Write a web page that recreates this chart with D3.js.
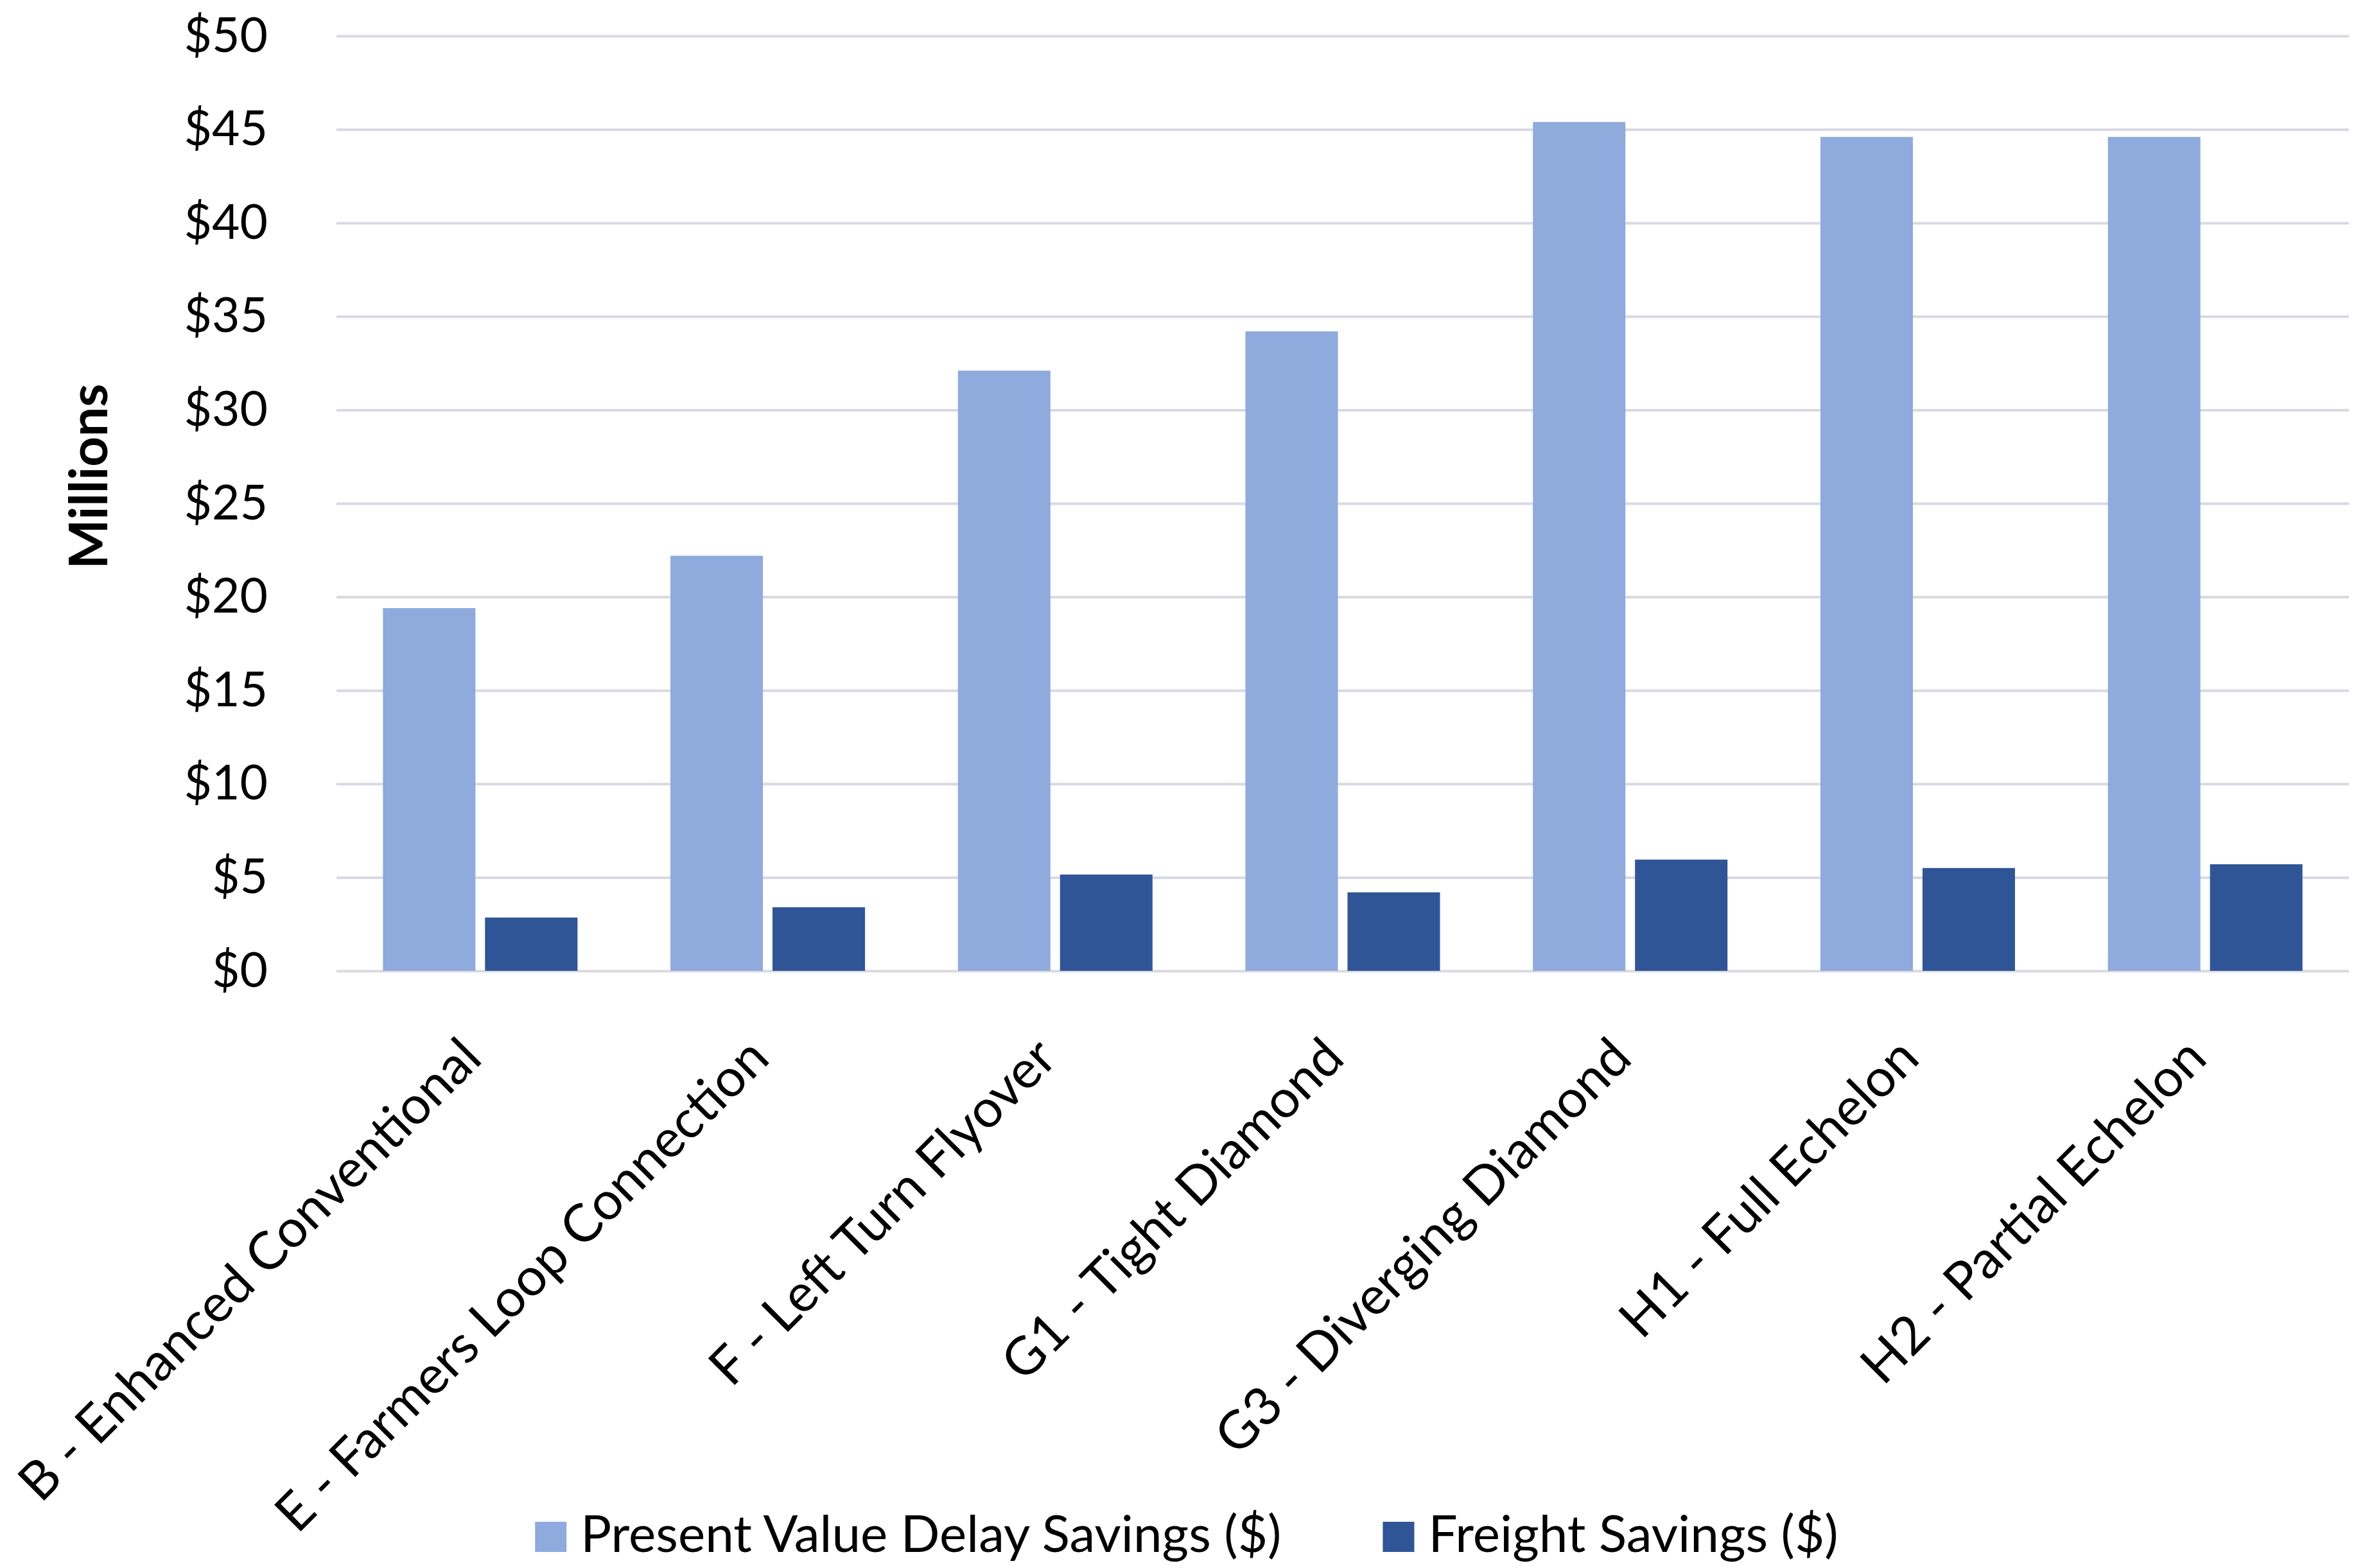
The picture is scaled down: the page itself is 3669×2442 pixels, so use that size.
<!DOCTYPE html>
<html>
<head>
<meta charset="utf-8">
<script src="https://cdn.jsdelivr.net/npm/d3@7"></script>
<style>
  html, body { margin: 0; padding: 0; background: #ffffff; }
  text { font-family: "Lato", "Open Sans", sans-serif; fill: #000000; }
</style>
</head>
<body>
<script>
// chart data
const categories = [
    'B - Enhanced Conventional',
    'E - Farmers Loop Connection',
    'F - Left Turn Flyover',
    'G1 - Tight Diamond',
    'G3 - Diverging Diamond',
    'H1 - Full Echelon',
    'H2 - Partial Echelon'
];
const seriesNames = ['Present Value Delay Savings ($)', 'Freight Savings ($)'];
const delaySavings = [19.4, 22.2, 32.1, 34.2, 45.4, 44.6, 44.6];
const freightSavings = [2.85, 3.4, 5.15, 4.2, 5.95, 5.5, 5.7];
const yTicks = [0, 5, 10, 15, 20, 25, 30, 35, 40, 45, 50];
const seriesColors = ['#8faadc', '#2f5597'];

function renderChart() {
    const width = 3669;
    const height = 2442;
    const plot = { left: 524, right: 3658, top: 56, bottom: 1512 };

    const svg = d3.select('body')
        .append('svg')
        .attr('width', width)
        .attr('height', height);

    svg.append('rect')
        .attr('width', width)
        .attr('height', height)
        .attr('fill', '#ffffff');

    // scales
    const x = d3.scaleBand()
        .domain(categories)
        .range([plot.left, plot.right]);

    const xInner = d3.scaleBand()
        .domain(seriesNames)
        .range([0, x.bandwidth()])
        .paddingInner(0.094)
        .paddingOuter(0.455);

    const y = d3.scaleLinear()
        .domain([0, 50])
        .range([plot.bottom, plot.top]);

    // y axis with gridlines
    const yAxis = d3.axisLeft(y)
        .tickValues(yTicks)
        .tickSize(-(plot.right - plot.left))
        .tickPadding(107)
        .tickFormat(d => '$' + d);

    const yg = svg.append('g')
        .attr('transform', `translate(${plot.left}, 0)`)
        .call(yAxis);
    yg.select('.domain').remove();
    yg.selectAll('.tick line')
        .attr('stroke', '#d9d9e3')
        .attr('stroke-width', 4);
    yg.selectAll('.tick text')
        .attr('font-size', 75)
        .attr('font-family', 'Lato, sans-serif')
        .attr('fill', '#000');

    // bars
    const rows = categories.map((c, i) => ({
        cat: c,
        values: [
            { name: seriesNames[0], value: delaySavings[i] },
            { name: seriesNames[1], value: freightSavings[i] }
        ]
    }));

    const groups = svg.selectAll('g.group')
        .data(rows)
        .enter()
        .append('g')
        .attr('class', 'group')
        .attr('transform', d => `translate(${x(d.cat)}, 0)`);

    groups.selectAll('rect')
        .data(d => d.values)
        .enter()
        .append('rect')
        .attr('x', d => xInner(d.name))
        .attr('y', d => y(d.value))
        .attr('width', xInner.bandwidth())
        .attr('height', d => y(0) - y(d.value))
        .attr('fill', (d, i) => seriesColors[i]);

    // category labels
    svg.selectAll('text.cat-label')
        .data(categories)
        .enter()
        .append('text')
        .attr('class', 'cat-label')
        .attr('text-anchor', 'end')
        .attr('font-size', 82)
        .attr('transform', d => `translate(${x(d) + x.bandwidth() / 2 + 6}, 1652) rotate(-45)`)
        .text(d => d);

    // y axis title
    svg.append('text')
        .attr('text-anchor', 'middle')
        .attr('font-size', 82)
        .attr('font-weight', 'bold')
        .attr('transform', 'translate(167, 742) rotate(-90)')
        .text('Millions');

    // legend
    const legend = svg.append('g');
    const swatch = 49;
    const swatchGap = 22;
    const itemGap = 158;
    const items = legend.selectAll('g.item')
        .data(seriesNames)
        .enter()
        .append('g')
        .attr('class', 'item');

    items.append('rect')
        .attr('width', swatch)
        .attr('height', 47)
        .attr('y', 2370)
        .attr('fill', (d, i) => seriesColors[i]);

    items.append('text')
        .attr('x', swatch + swatchGap)
        .attr('y', 2417)
        .attr('font-size', 80)
        .text(d => d);

    const widths = [];
    items.each(function () {
        const w = swatch + swatchGap + d3.select(this).select('text').node().getComputedTextLength();
        widths.push(w);
    });
    const total = d3.sum(widths) + itemGap * (widths.length - 1);
    let cursor = 1848 - total / 2;
    items.attr('transform', (d, i) => {
        const t = `translate(${cursor}, 0)`;
        cursor += widths[i] + itemGap;
        return t;
    });
}

window.addEventListener('load', function () {
    requestAnimationFrame(renderChart);
});
</script>
</body>
</html>
